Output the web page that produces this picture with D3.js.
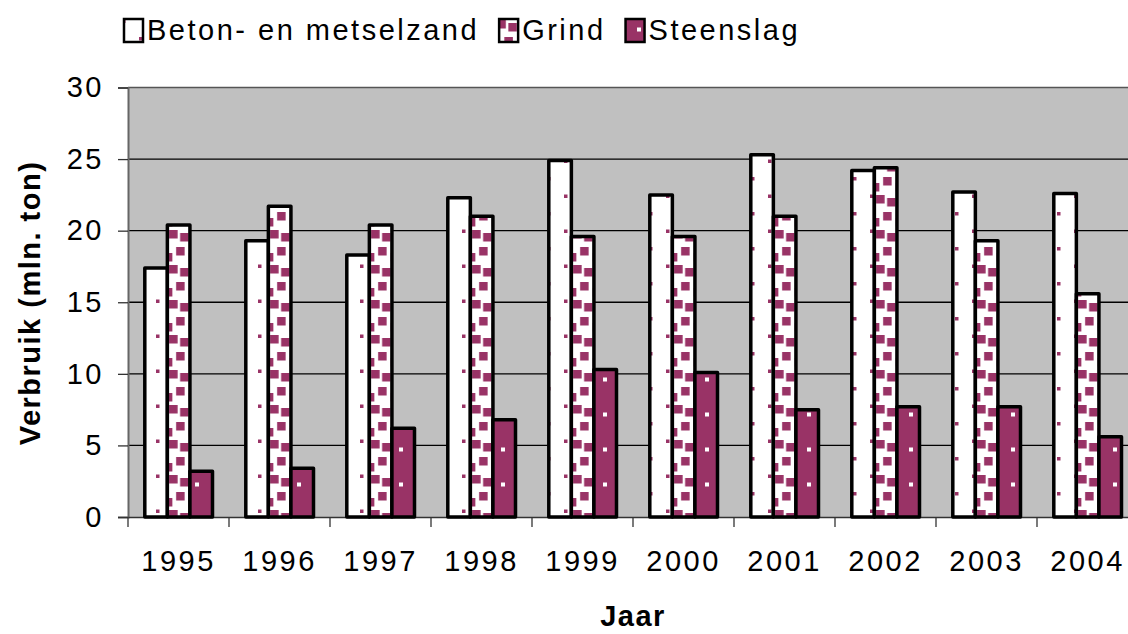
<!DOCTYPE html>
<html>
<head>
<meta charset="utf-8">
<script src="https://cdn.jsdelivr.net/npm/d3@7"></script>
<style>
  html, body { margin: 0; padding: 0; background: #fff; overflow: hidden; }
  svg { display: block; font-family: "Liberation Sans", Arial, sans-serif; }
</style>
</head>
<body>
<svg id="chart" width="1128" height="634"></svg>
<script>
// jaren en reeksen
const years = ["1995", "1996", "1997", "1998", "1999", "2000", "2001", "2002", "2003", "2004"];
const seriesNames = ["Beton- en metselzand", "Grind", "Steenslag"];
const betonZand = [17.4, 19.3, 18.3, 22.3, 24.9, 22.5, 25.3, 24.2, 22.7, 22.6];
const grind     = [20.4, 21.7, 20.4, 21.0, 19.6, 19.6, 21.0, 24.4, 19.3, 15.6];
const steenslag = [3.2, 3.4, 6.2, 6.8, 10.3, 10.1, 7.5, 7.7, 7.7, 5.6];
const yTicks = [0, 5, 10, 15, 20, 25, 30];

const MAGENTA = "#993366";
const FONT_SIZE = 29;
const BAR_STROKE = 3.5;
const svg = d3.select("#chart");

// layout
const plot = { left: 128, top: 87.5, bottom: 517, catWidth: 101 };

const x0 = d3.scaleBand()
  .domain(years)
  .range([plot.left, plot.left + plot.catWidth * years.length])
  .padding(0);

const x1 = d3.scaleBand()
  .domain(seriesNames)
  .range([16.8, 84.5])
  .padding(0);

const y = d3.scaleLinear()
  .domain([0, 30])
  .range([plot.bottom, plot.top]);

// patronen (5%, grote confetti, 5% omgekeerd)
const defs = svg.append("defs");

const pBeton = defs.append("pattern")
  .attr("id", "pat-beton")
  .attr("patternUnits", "userSpaceOnUse")
  .attr("width", 34).attr("height", 35)
  .attr("x", 3).attr("y", 2);
pBeton.append("rect").attr("width", 34).attr("height", 35).attr("fill", "#fff");
pBeton.append("rect").attr("x", 0).attr("y", 0).attr("width", 3.5).attr("height", 3.5).attr("fill", MAGENTA);
pBeton.append("rect").attr("x", 17).attr("y", 17.5).attr("width", 3.5).attr("height", 3.5).attr("fill", MAGENTA);

// tegelbreedte deelt de categoriebreedte, zodat elke grindstaaf hetzelfde stuk toont
const grindTileW = plot.catWidth / 4;
const confetti = [[0, 0], [11, 3], [7, 17], [20, 23]];
const pGrind = defs.append("pattern")
  .attr("id", "pat-grind")
  .attr("patternUnits", "userSpaceOnUse")
  .attr("width", grindTileW).attr("height", 35)
  .attr("x", plot.left + x1("Grind") + BAR_STROKE / 2).attr("y", 300);
pGrind.append("rect").attr("width", grindTileW).attr("height", 35).attr("fill", "#fff");
confetti.forEach(([cx, cy]) => {
  [0, -grindTileW].forEach(dx => [0, -35].forEach(dy => {
    pGrind.append("rect")
      .attr("x", cx + dx).attr("y", cy + dy)
      .attr("width", 8.5).attr("height", 8.5)
      .attr("fill", MAGENTA);
  }));
});

const pSteen = defs.append("pattern")
  .attr("id", "pat-steen")
  .attr("patternUnits", "userSpaceOnUse")
  .attr("width", 34).attr("height", 35)
  .attr("x", 8).attr("y", 10);
pSteen.append("rect").attr("width", 34).attr("height", 35).attr("fill", MAGENTA);
pSteen.append("rect").attr("x", 0).attr("y", 0).attr("width", 4).attr("height", 4).attr("fill", "#fff");
pSteen.append("rect").attr("x", 17).attr("y", 17.5).attr("width", 4).attr("height", 4).attr("fill", "#fff");

const fills = ["url(#pat-beton)", "url(#pat-grind)", "url(#pat-steen)"];

// plotgebied
svg.append("rect")
  .attr("x", plot.left)
  .attr("y", plot.top)
  .attr("width", plot.catWidth * years.length)
  .attr("height", plot.bottom - plot.top)
  .attr("fill", "#c0c0c0");

// rasterlijnen
svg.append("g")
  .selectAll("line")
  .data(yTicks.filter(d => d > 0))
  .join("line")
  .attr("x1", plot.left)
  .attr("x2", 1128)
  .attr("y1", d => y(d))
  .attr("y2", d => y(d))
  .attr("stroke", d => d === 30 ? "#555" : "#000")
  .attr("stroke-width", 1.3);

// y-as
const yAxis = svg.append("g")
  .attr("transform", `translate(${plot.left},0)`)
  .call(d3.axisLeft(y).tickValues(yTicks).tickSize(10).tickPadding(14));
yAxis.select(".domain").attr("stroke", "#666").attr("stroke-width", 2);
yAxis.selectAll(".tick line").attr("stroke", "#333").attr("stroke-width", 1.3);
yAxis.selectAll(".tick text")
  .attr("font-size", FONT_SIZE)
  .attr("letter-spacing", 2.5)
  .attr("fill", "#000")
  .attr("font-family", "Liberation Sans, Arial, sans-serif");

// x-as
const xAxis = svg.append("g")
  .attr("transform", `translate(0,${plot.bottom})`)
  .call(d3.axisBottom(x0).tickSize(0).tickPadding(33));
xAxis.select(".domain").attr("stroke", "#333").attr("stroke-width", 1.3);
xAxis.selectAll(".tick text")
  .attr("font-size", FONT_SIZE)
  .attr("letter-spacing", 2.5)
  .attr("fill", "#000")
  .attr("font-family", "Liberation Sans, Arial, sans-serif");

// streepjes tussen categorieen
svg.append("g")
  .selectAll("line")
  .data(years)
  .join("line")
  .attr("x1", d => x0(d))
  .attr("x2", d => x0(d))
  .attr("y1", plot.bottom)
  .attr("y2", plot.bottom + 10)
  .attr("stroke", "#333")
  .attr("stroke-width", 1.3);

// staven
const seriesValues = [betonZand, grind, steenslag];
const gBars = svg.append("g");
years.forEach((yr, i) => {
  seriesNames.forEach((name, s) => {
    const v = seriesValues[s][i];
    gBars.append("rect")
      .attr("x", x0(yr) + x1(name))
      .attr("y", y(v))
      .attr("width", x1.bandwidth())
      .attr("height", y(0) - y(v))
      .attr("fill", fills[s])
      .attr("stroke", "#000")
      .attr("stroke-width", BAR_STROKE)
      .attr("stroke-linejoin", "round");
  });
});

// aslabels
svg.append("text")
  .attr("transform", "translate(40,303) rotate(-90)")
  .attr("text-anchor", "middle")
  .attr("font-size", FONT_SIZE)
  .attr("font-weight", "bold")
  .attr("letter-spacing", 1.5)
  .text("Verbruik (mln. ton)");

svg.append("text")
  .attr("x", 633)
  .attr("y", 626)
  .attr("text-anchor", "middle")
  .attr("font-size", FONT_SIZE)
  .attr("font-weight", "bold")
  .attr("letter-spacing", 1.5)
  .text("Jaar");

// legenda
const legend = svg.append("g");
let lx = 124;
seriesNames.forEach((name, s) => {
  legend.append("rect")
    .attr("x", lx)
    .attr("y", 19)
    .attr("width", 19)
    .attr("height", 23)
    .attr("fill", fills[s])
    .attr("stroke", "#000")
    .attr("stroke-width", 2.5);
  const t = legend.append("text")
    .attr("x", lx + 23)
    .attr("y", 40)
    .attr("font-size", FONT_SIZE)
    .attr("letter-spacing", 2.5)
    .text(name);
  lx += 23 + t.node().getComputedTextLength() + 20;
});
</script>
</body>
</html>
